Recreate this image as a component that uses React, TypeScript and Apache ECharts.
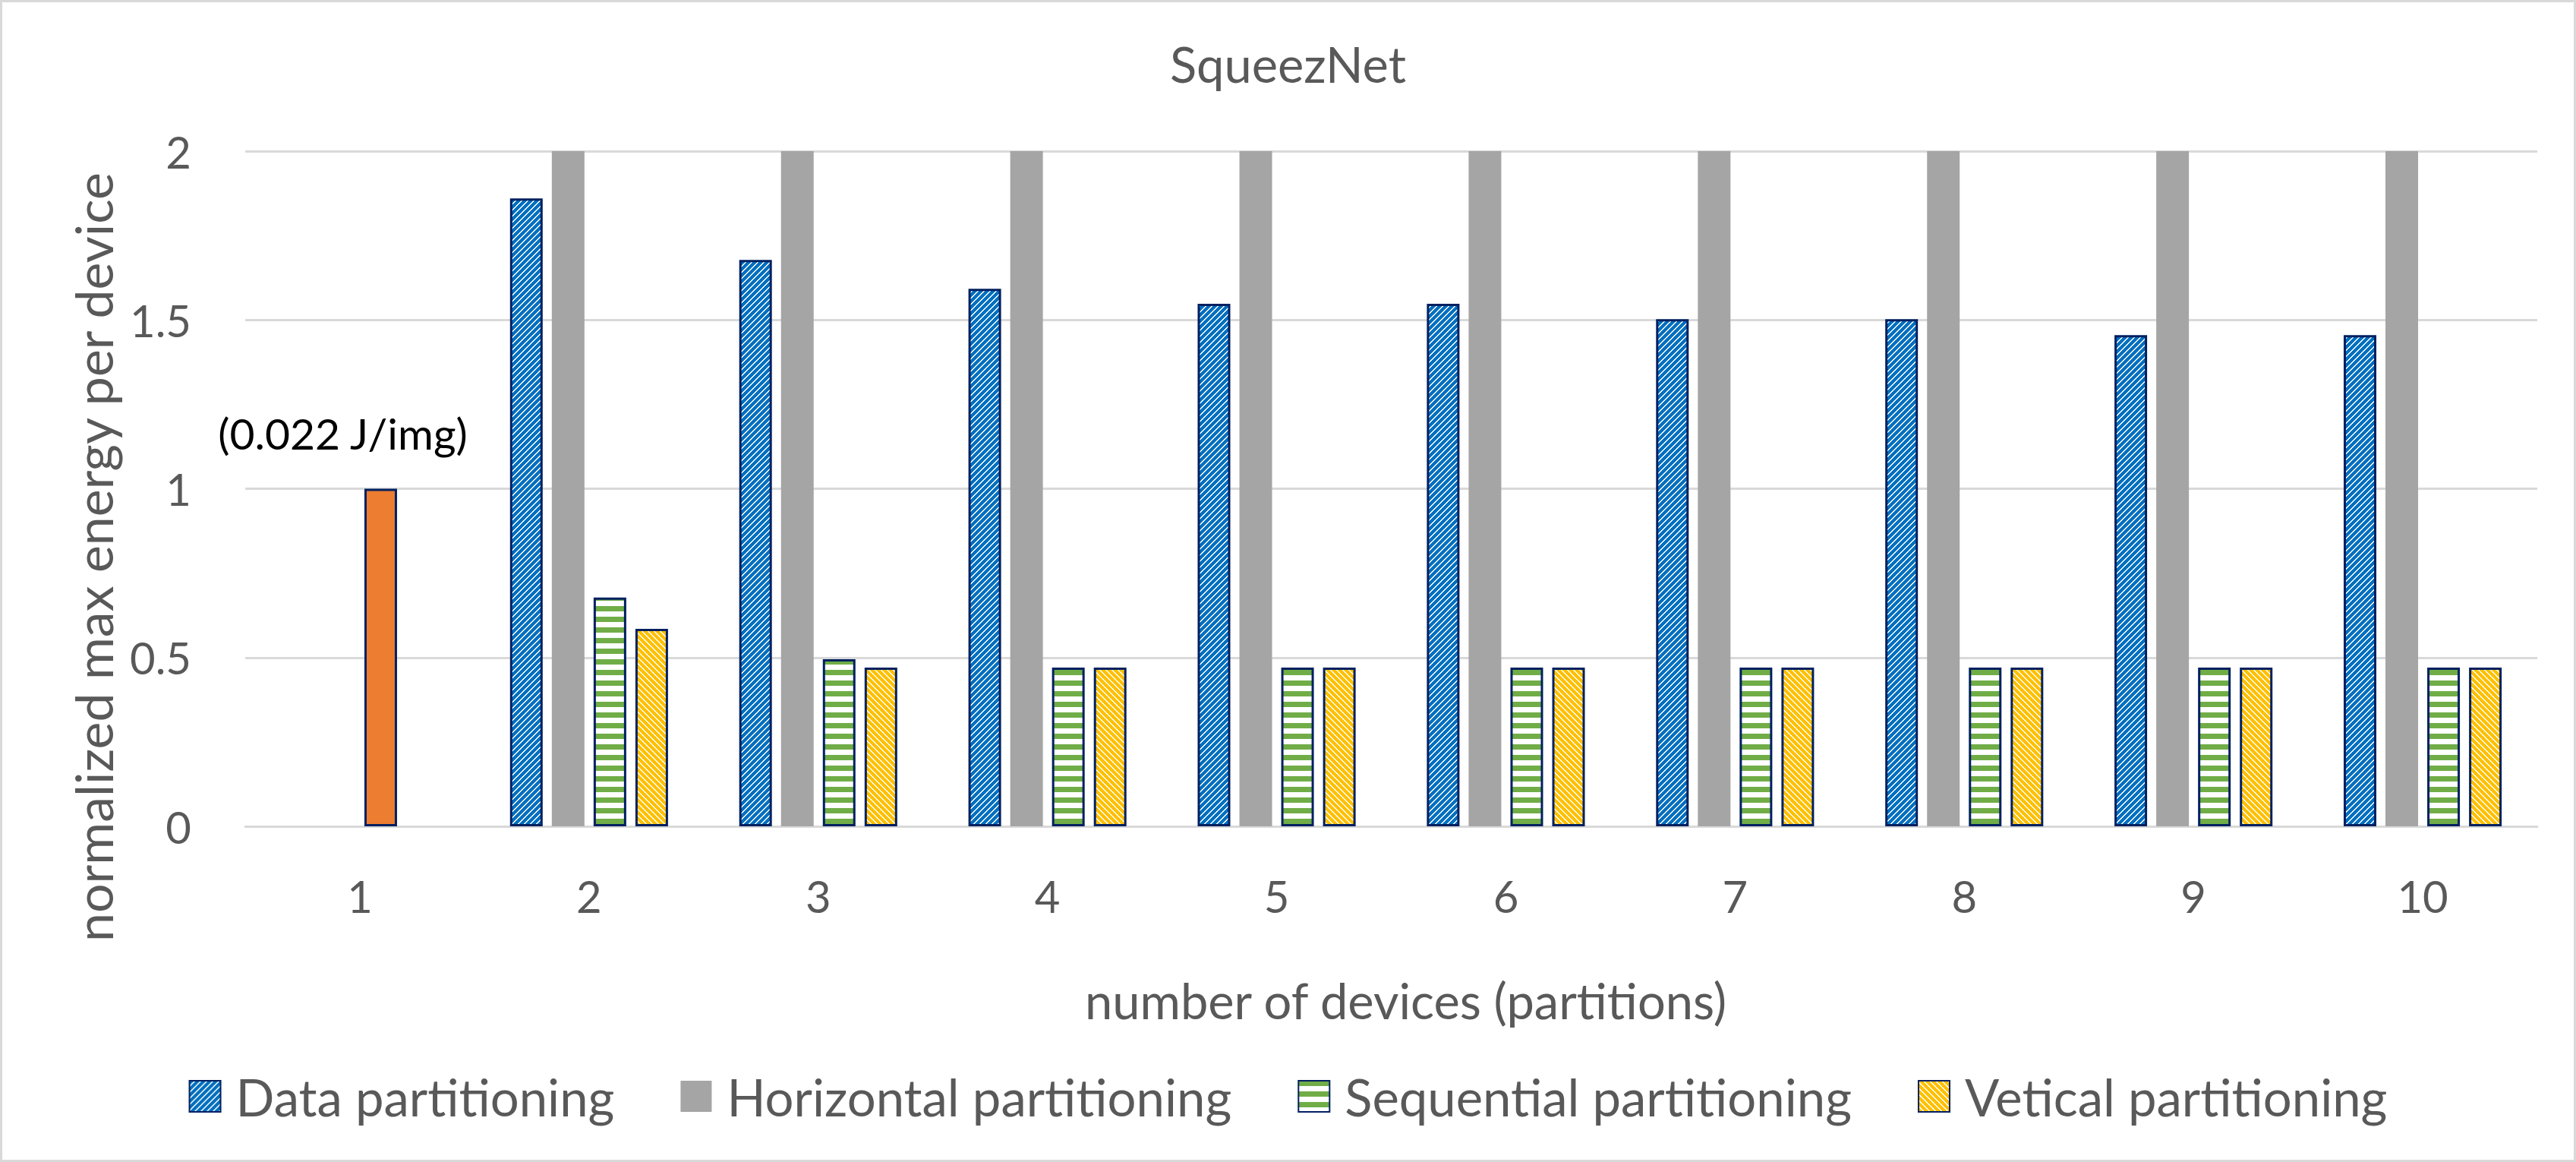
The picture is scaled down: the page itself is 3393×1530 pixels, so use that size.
import React, { useEffect, useRef } from "react";
import * as echarts from "echarts";

const categories = ["1", "2", "3", "4", "5", "6", "7", "8", "9", "10"];
const dataPartitioning = [null, 1.86, 1.678, 1.592, 1.548, 1.548, 1.502, 1.502, 1.455, 1.455];
const horizontalPartitioning = [null, 2, 2, 2, 2, 2, 2, 2, 2, 2];
const sequentialPartitioning = [1, 0.678, 0.495, 0.47, 0.47, 0.47, 0.47, 0.47, 0.47, 0.47];
const veticalPartitioning = [null, 0.585, 0.47, 0.47, 0.47, 0.47, 0.47, 0.47, 0.47, 0.47];
const seriesNames = [
  "Data partitioning",
  "Horizontal partitioning",
  "Sequential partitioning",
  "Vetical partitioning",
];
const singleDeviceLabel = "(0.022 J/img)";
const yMin = 0;
const yMax = 2;
const yInterval = 0.5;

const FONT = "Lato";
const TEXT = "#595959";
const GRID = "#D9D9D9";
const NAVY = "#002060";

function hexToRgb(hex: string) {
  const n = parseInt(hex.slice(1), 16);
  return [(n >> 16) & 255, (n >> 8) & 255, n & 255];
}

function stripeTile(kind: "up" | "down" | "horiz", color: string) {
  const c = document.createElement("canvas");
  const [r, g, b] = hexToRgb(color);
  let w: number, h: number;
  let on: (x: number, y: number) => boolean;
  if (kind === "horiz") {
    w = 4;
    h = 14;
    on = (_x, y) => y < 7;
  } else {
    const P = 8;
    const band = 6;
    w = P;
    h = P;
    on =
      kind === "up"
        ? (x, y) => (((x + y) % P) + P) % P < band
        : (x, y) => (((x - y) % P) + P) % P < band;
  }
  c.width = w;
  c.height = h;
  const ctx = c.getContext("2d")!;
  const img = ctx.createImageData(w, h);
  for (let y = 0; y < h; y++) {
    for (let x = 0; x < w; x++) {
      const i = (y * w + x) * 4;
      const isOn = on(x, y);
      img.data[i] = isOn ? r : 255;
      img.data[i + 1] = isOn ? g : 255;
      img.data[i + 2] = isOn ? b : 255;
      img.data[i + 3] = 255;
    }
  }
  ctx.putImageData(img, 0, 0);
  return {
    image: c.toDataURL(),
    repeat: "repeat",
    imageWidth: w,
    imageHeight: h,
  } as any;
}

export default function App() {
  const ref = useRef<HTMLDivElement>(null);

  useEffect(() => {
    if (!ref.current) return;
    const chart = echarts.init(ref.current, undefined, { renderer: "svg" });

    const bluePat = stripeTile("up", "#0070C0");
    const greenPat = stripeTile("horiz", "#70AD47");
    const yellowPat = stripeTile("down", "#FFC000");

    const common = {
      type: "bar" as const,
      barWidth: 43,
      barGap: "28%",
    };

    const option: any = {
      animation: false,
      backgroundColor: "#ffffff",
      title: {
        text: "SqueezNet",
        left: "center",
        top: 51,
        padding: 0,
        textStyle: { fontFamily: FONT, fontSize: 65, fontWeight: "normal", color: TEXT },
      },
      legend: {
        top: 1410,
        left: "center",
        padding: 0,
        itemWidth: 41,
        itemHeight: 41,
        itemGap: 87,
        icon: "rect",
        data: seriesNames,
        textStyle: { fontFamily: FONT, fontSize: 67, color: TEXT, padding: [0, 0, 0, 15] },
      },
      grid: { left: 323, right: 51, top: 199, bottom: 442, containLabel: false },
      xAxis: {
        type: "category",
        data: categories,
        axisLine: { lineStyle: { color: GRID, width: 3 } },
        axisTick: { show: false },
        axisLabel: { fontFamily: FONT, fontSize: 58, color: TEXT, margin: 62 },
        name: "number of devices (partitions)",
        nameLocation: "middle",
        nameGap: 196,
        nameTextStyle: { fontFamily: FONT, fontSize: 65, color: TEXT, padding: [0, 0, 0, 38] },
      },
      yAxis: {
        type: "value",
        min: yMin,
        max: yMax,
        interval: yInterval,
        axisLine: { show: false },
        axisTick: { show: false },
        splitLine: { lineStyle: { color: GRID, width: 3 } },
        axisLabel: { fontFamily: FONT, fontSize: 58, color: TEXT, margin: 71 },
        name: "normalized max energy per device",
        nameLocation: "middle",
        nameRotate: 90,
        nameGap: 167,
        nameTextStyle: { fontFamily: FONT, fontSize: 68, color: TEXT, padding: [0, 180, 0, 0] },
      },
      graphic: [
        {
          type: "rect",
          silent: true,
          z: -10,
          shape: { x: 1.5, y: 1.5, width: 3390, height: 1527 },
          style: { fill: "none", stroke: GRID, lineWidth: 3 },
        },
      ],
      series: [
        {
          ...common,
          name: seriesNames[0],
          data: dataPartitioning,
          itemStyle: { color: bluePat, borderColor: NAVY, borderWidth: 3 },
        },
        {
          ...common,
          name: seriesNames[1],
          data: horizontalPartitioning,
          itemStyle: { color: "#A5A5A5", borderWidth: 0 },
        },
        {
          ...common,
          name: seriesNames[2],
          data: sequentialPartitioning.map((v, i) =>
            i === 0
              ? {
                  value: v,
                  itemStyle: { color: "#ED7D31" },
                  label: {
                    show: true,
                    position: "top",
                    formatter: singleDeviceLabel,
                    color: "#000000",
                    fontFamily: FONT,
                    fontSize: 57,
                    offset: [-50, -40],
                  },
                }
              : v
          ),
          itemStyle: { color: greenPat, borderColor: NAVY, borderWidth: 3 },
        },
        {
          ...common,
          name: seriesNames[3],
          data: veticalPartitioning,
          itemStyle: { color: yellowPat, borderColor: NAVY, borderWidth: 3 },
        },
      ],
    };

    chart.setOption(option);
    return () => chart.dispose();
  }, []);

  return (
    <div
      ref={ref}
      style={{ position: "fixed", left: 0, top: 0, width: 3393, height: 1530, background: "#fff" }}
    />
  );
}
